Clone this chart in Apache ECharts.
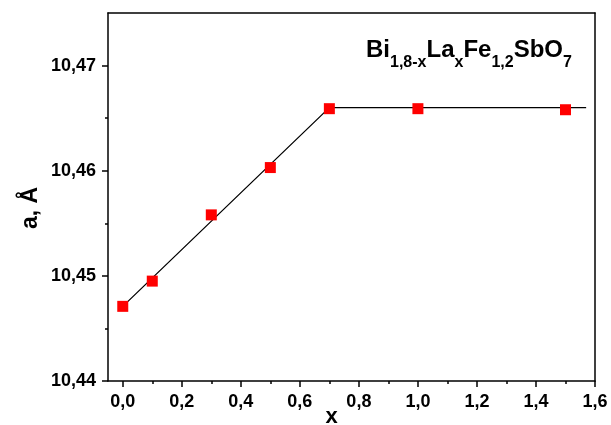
<!DOCTYPE html>
<html>
<head>
<meta charset="utf-8">
<script src="https://cdn.jsdelivr.net/npm/echarts@6/dist/echarts.min.js"></script>
<style>html,body{margin:0;padding:0;background:#fff}#c{width:611px;height:425px}</style>
</head>
<body>
<div id="c"></div>
<script>
const xValues = [0, 0.1, 0.3, 0.5, 0.7, 1.0, 1.5];
const aValues = [10.4471, 10.4495, 10.4558, 10.4603, 10.4659, 10.4659, 10.4658];
const fitX = [0, 0.7, 1.57];
const fitY = [10.4471, 10.4660, 10.4660];
const xMajor = [0, 0.2, 0.4, 0.6, 0.8, 1.0, 1.2, 1.4, 1.6];
const xMinor = [0.1, 0.3, 0.5, 0.7, 0.9, 1.1, 1.3, 1.5];
const yMajor = [10.44, 10.45, 10.46, 10.47];
const yMinor = [10.445, 10.455, 10.465];

const chart = echarts.init(document.getElementById('c'));
const font = 'Liberation Sans, Arial, sans-serif';
const fmt = v => v.toFixed(1).replace('.', ',');
const fmtY = v => v.toFixed(2).replace('.', ',');

chart.setOption({
  animation: false,
  backgroundColor: '#fff',
  grid: {left: 108, right: 16, top: 13, bottom: 44, containLabel: false, outerBoundsMode: 'none'},
  xAxis: [{
    type: 'value', min: -0.05, max: 1.6,
    name: 'x', nameLocation: 'middle', nameGap: 25, nameMoveOverlap: false,
    nameTextStyle: {fontFamily: font, fontWeight: 'bold', fontSize: 22, color: '#000', padding: [0, 40, 0, 0]},
    axisLine: {onZero: false, lineStyle: {color: '#000', width: 1.5}},
    axisTick: {show: true, inside: false, length: 6, lineStyle: {color: '#000', width: 1.5}, customValues: xMajor},
    minorTick: {show: false},
    axisLabel: {fontFamily: font, fontWeight: 'bold', fontSize: 18, color: '#000', margin: 12,
      customValues: xMajor, formatter: fmt},
    splitLine: {show: false}
  }, {
    type: 'value', min: -0.05, max: 1.6, position: 'bottom',
    axisLine: {show: false, onZero: false},
    axisTick: {show: true, length: 3, lineStyle: {color: '#000', width: 1.5}, customValues: xMinor},
    axisLabel: {show: false}, splitLine: {show: false}
  }, {
    type: 'value', min: -0.05, max: 1.6, position: 'top',
    axisLine: {show: true, onZero: false, lineStyle: {color: '#000', width: 1.5}},
    axisTick: {show: false}, axisLabel: {show: false}, splitLine: {show: false}
  }],
  yAxis: [{
    type: 'value', min: 10.44, max: 10.475,
    name: 'a, Å', nameLocation: 'middle', nameGap: 66, nameRotate: 90, nameMoveOverlap: false,
    nameTextStyle: {fontFamily: font, fontWeight: 'bold', fontSize: 23, color: '#000', padding: [0, 22, 0, 0]},
    axisLine: {onZero: false, lineStyle: {color: '#000', width: 1.5}},
    axisTick: {show: true, length: 6, lineStyle: {color: '#000', width: 1.5}, customValues: yMajor},
    minorTick: {show: false},
    axisLabel: {fontFamily: font, fontWeight: 'bold', fontSize: 18, color: '#000', margin: 12,
      customValues: yMajor, formatter: fmtY},
    splitLine: {show: false}
  }, {
    type: 'value', min: 10.44, max: 10.475, position: 'left',
    axisLine: {show: false, onZero: false},
    axisTick: {show: true, length: 3, lineStyle: {color: '#000', width: 1.5}, customValues: yMinor},
    axisLabel: {show: false}, splitLine: {show: false}
  }, {
    type: 'value', min: 10.44, max: 10.475, position: 'right',
    axisLine: {show: true, onZero: false, lineStyle: {color: '#000', width: 1.5}},
    axisTick: {show: false}, axisLabel: {show: false}, splitLine: {show: false}
  }],
  graphic: [{
    type: 'text', left: 366, top: 38,
    style: {
      text: '{m|Bi}{s|1,8-x}{m|La}{s|x}{m|Fe}{s|1,2}{m|SbO}{s|7}',
      rich: {
        m: {fontFamily: font, fontWeight: 'bold', fontSize: 24, fill: '#000', lineHeight: 24, padding: [0, 0, 9, 0], verticalAlign: 'bottom'},
        s: {fontFamily: font, fontWeight: 'bold', fontSize: 16, fill: '#000', lineHeight: 16, verticalAlign: 'bottom'}
      }
    }
  }],
  series: [{
    type: 'line', xAxisIndex: 0, yAxisIndex: 0,
    data: fitX.map((x, i) => [x, fitY[i]]),
    showSymbol: false, symbol: 'none',
    lineStyle: {color: '#000', width: 1.3}, z: 2
  }, {
    type: 'scatter', xAxisIndex: 0, yAxisIndex: 0,
    data: xValues.map((x, i) => [x, aValues[i]]),
    symbol: 'rect', symbolSize: 11,
    itemStyle: {color: '#ff0000', opacity: 1}, z: 3
  }]
});
</script>
</body>
</html>
